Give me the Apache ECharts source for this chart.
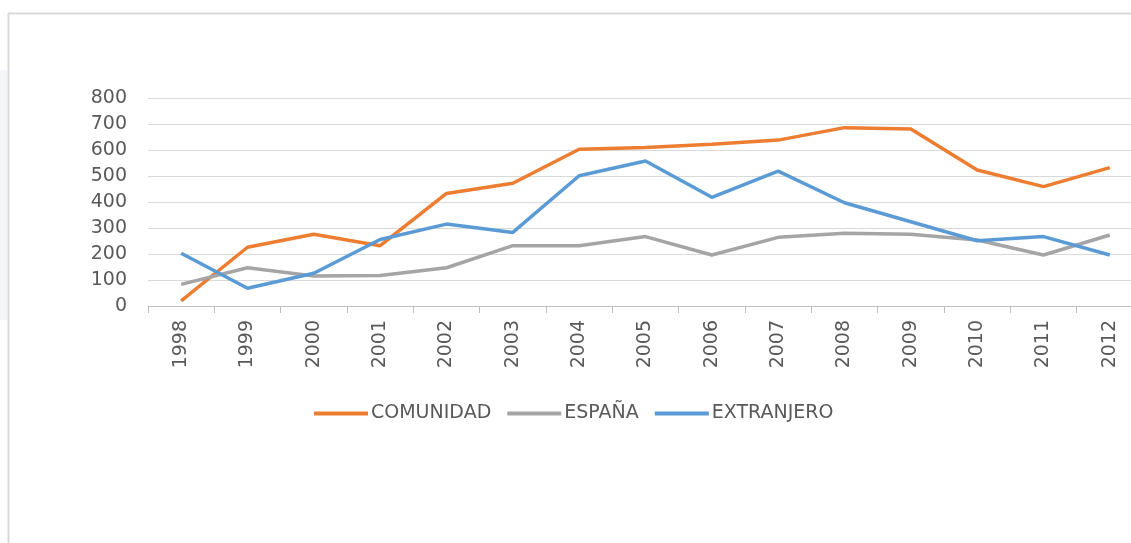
<!DOCTYPE html>
<html>
<head>
<meta charset="utf-8">
<title>COMUNIDAD / ESPAÑA / EXTRANJERO</title>
<script src="https://cdn.jsdelivr.net/npm/echarts@6/dist/echarts.min.js"></script>
<style>
  html, body { margin: 0; padding: 0; background: #fff; overflow: hidden; }
  #chart { width: 1131px; height: 543px; }
</style>
</head>
<body>
<div id="chart"></div>
<script>
// datos
var years = ['1998', '1999', '2000', '2001', '2002', '2003', '2004', '2005',
             '2006', '2007', '2008', '2009', '2010', '2011', '2012'];
var comunidad = [20, 226, 276, 232, 433, 472, 603, 610, 622, 638, 686, 681, 523, 459, 532];
var espana = [83, 147, 115, 117, 147, 232, 232, 267, 196, 264, 280, 276, 254, 196, 273];
var extranjero = [203, 68, 126, 256, 315, 283, 501, 558, 418, 519, 397, 324, 251, 267, 196];
var yTicks = [0, 100, 200, 300, 400, 500, 600, 700, 800];

var textColor = '#595959';
var fontFamily = 'DejaVu Sans';

var chart = echarts.init(document.getElementById('chart'));

function lineSerie(name, data, color) {
    return {
        name: name,
        type: 'line',
        data: data,
        showSymbol: false,
        symbol: 'none',
        smooth: false,
        lineStyle: { color: color, width: 3.5 },
        itemStyle: { color: color },
        emphasis: { disabled: true }
    };
}

var option = {
    animation: false,
    backgroundColor: '#fff',
    textStyle: { fontFamily: fontFamily },
    graphic: [
        {
            type: 'rect',
            shape: { x: 0, y: 70, width: 7, height: 250 },
            style: { fill: '#f4f7fa' },
            silent: true
        },
        // marco del grafico: solo arriba e izquierda
        {
            type: 'line',
            shape: { x1: 8, y1: 13.5, x2: 1131, y2: 13.5 },
            style: { stroke: '#d9d9d9', lineWidth: 2 },
            silent: true
        },
        {
            type: 'line',
            shape: { x1: 8.5, y1: 13, x2: 8.5, y2: 543 },
            style: { stroke: '#d9d9d9', lineWidth: 2 },
            silent: true
        }
    ],
    legend: {
        data: ['COMUNIDAD', 'ESPAÑA', 'EXTRANJERO'],
        left: 309,
        top: 399,
        icon: 'rect',
        itemWidth: 54,
        itemHeight: 4,
        itemGap: 16,
        textStyle: {
            color: textColor,
            fontSize: 19,
            fontFamily: fontFamily,
            padding: [0, 0, 0, -2]
        }
    },
    grid: {
        left: 148,
        top: 98,
        width: 995,
        height: 208,
        containLabel: false,
        outerBoundsMode: 'none'
    },
    xAxis: {
        type: 'category',
        data: years,
        boundaryGap: true,
        axisLine: { show: true, lineStyle: { color: '#bfbfbf', width: 1 } },
        axisTick: { show: true, length: 7, lineStyle: { color: '#bfbfbf' } },
        axisLabel: {
            rotate: 90,
            margin: 14,
            interval: 0,
            color: textColor,
            fontSize: 19,
            fontFamily: fontFamily
        },
        splitLine: { show: false }
    },
    yAxis: {
        type: 'value',
        min: yTicks[0],
        max: yTicks[yTicks.length - 1],
        interval: 100,
        axisLine: { show: false },
        axisTick: { show: false },
        axisLabel: {
            margin: 21,
            color: textColor,
            fontSize: 19,
            fontFamily: fontFamily
        },
        splitLine: { lineStyle: { color: '#d9d9d9', width: 1 } }
    },
    series: [
        lineSerie('COMUNIDAD', comunidad, '#ed7d31'),
        lineSerie('ESPAÑA', espana, '#a5a5a5'),
        lineSerie('EXTRANJERO', extranjero, '#5b9bd5')
    ]
};

chart.setOption(option);
</script>
</body>
</html>
